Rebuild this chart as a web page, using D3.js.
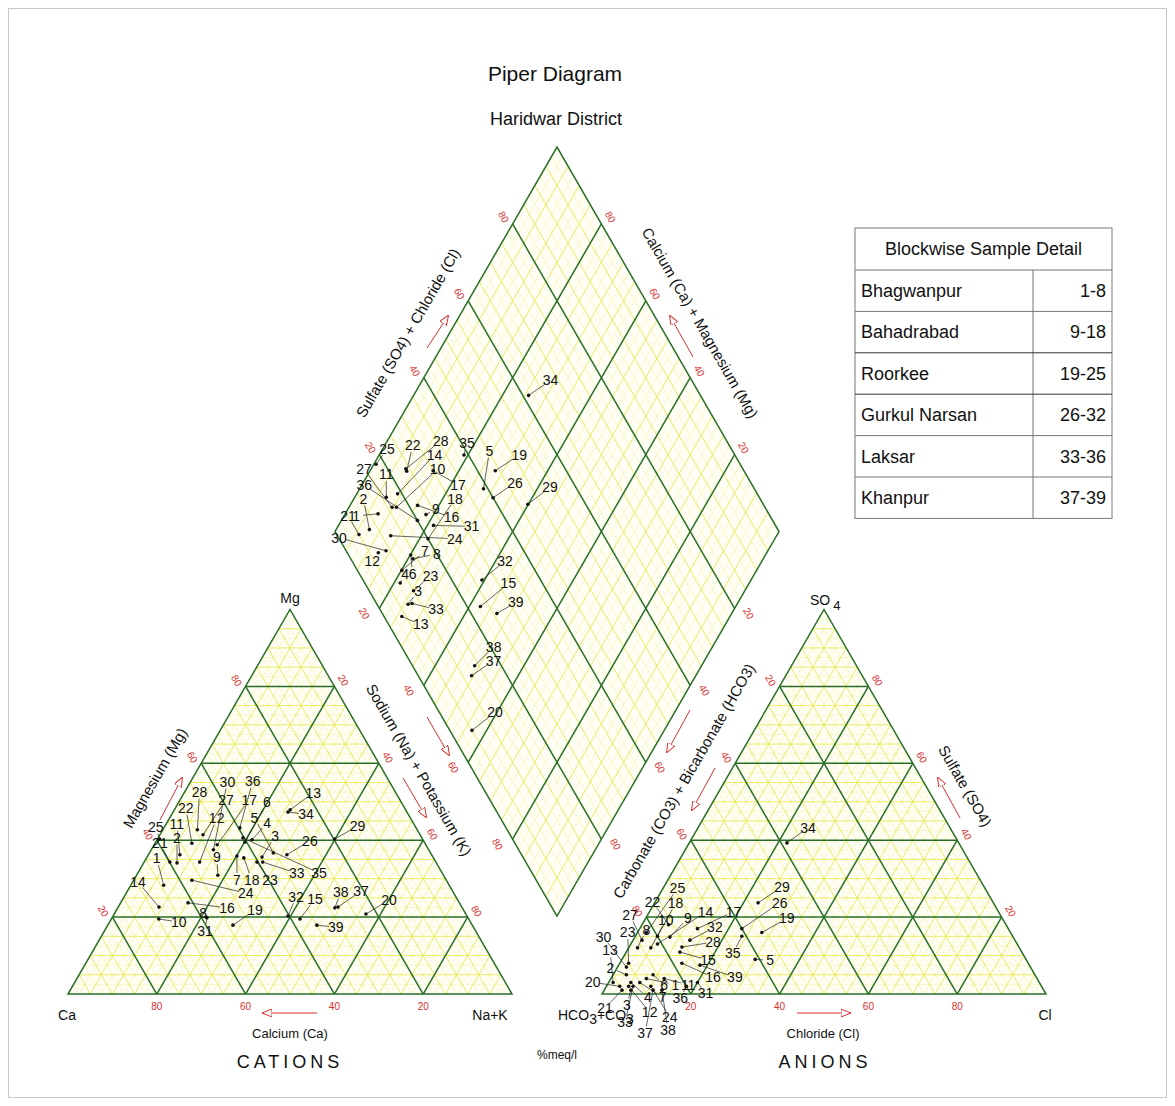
<!DOCTYPE html>
<html>
<head>
<meta charset="utf-8">
<script src="https://cdn.jsdelivr.net/npm/d3@7"></script>
<style>
  body { margin: 0; background: #fff; }
  svg { display: block; font-family: Arial, "Liberation Sans", sans-serif; }
</style>
</head>
<body>
<svg id="chart" width="1175" height="1106"></svg>
<script>
// ---- data (% meq/l) ----
const sampleIds = [1,2,3,4,5,6,7,8,9,10,11,12,13,14,15,16,17,18,19,20,21,22,23,24,25,26,27,28,29,30,31,32,33,34,35,36,37,38,39];
const caPct   = [64.3,58.4,38.5,38.5,35.4,40.4,44.0,58.9,50.8,69.8,56.7,53.2,26.0,68.2,38.0,61.1,47.0,42.7,53.9,22.5,59.9,52.5,40.3,57.3,59.2,32.6,48.9,49.5,19.8,48.5,58.8,40.3,39.0,26.8,40.3,39.7,27.9,28.7,35.0];
const mgPct   = [28.3,34.1,35.6,40.1,36.7,39.5,35.9,20.0,30.9,19.5,36.2,34.3,47.9,22.6,19.5,23.7,38.8,35.4,17.9,20.8,34.3,39.2,34.3,29.6,40.3,36.2,41.4,42.7,40.3,37.5,19.8,20.3,34.3,47.3,40.6,43.2,22.6,22.4,17.9];
const nakPct  = [7.4,7.5,25.9,21.4,27.9,20.1,20.1,21.1,18.3,10.7,7.1,12.5,26.1,9.2,42.5,15.2,14.2,21.9,28.2,56.7,5.8,8.3,25.4,13.1,0.5,31.2,9.7,7.8,39.9,14.0,21.4,39.4,26.7,25.9,19.1,17.1,49.5,48.9,47.1];
const hco3Pct = [88,92,93,92,61,86,90,86,77.3,83,84,93,96,81,77,78,70,80,56,95,95,76,90,88,82,60,84,75.9,53,91,77,73.2,92,38.7,61,80,88,86,74.2];
const so4Pct  = [4,5,1,3,9,5,3,12,14.8,12,4,2,3,13,10.9,8,17,15,16,2,1,18,8,2,16,17,14,12.2,23.7,7,3,14,2,39.3,15,2,1,1,7.5];
const clPct   = [8,3,6,5,30,9,7,2,7.9,5,12,5,1,6,12.1,14,13,5,28,3,4,6,2,10,2,23,2,11.9,23.3,2,20,12.8,6,22.0,24,18,11,13,18.3];

const tickValues = [20, 40, 60, 80];
const blockNames  = ['Bhagwanpur', 'Bahadrabad', 'Roorkee', 'Gurkul Narsan', 'Laksar', 'Khanpur'];
const blockRanges = ['1-8', '9-18', '19-25', '26-32', '33-36', '37-39'];

// label placement (pixel offsets from each point, layout only)
const catLabelOffsets = [[-7,-27],[0,-25],[13,-21],[15,-17],[-19,-35],[22,-40],[0,24],[-3,-4],[-1,-18],[20,3],
  [-3,-31],[17,-44],[23,-17],[-21,-25],[15,-20],[39,5],[32,-45],[8,22],[22,-15],[23,-14],
  [-10,-19],[-6,-35],[13,18],[54,13],[-4,-12],[23,-14],[23,-35],[2,-38],[23,-13],[14,-68],
  [-2,13],[8,-19],[34,11],[18,2],[76,35],[13,-47],[23,-16],[6,-16],[19,2]];
const anLabelOffsets = [[29,6],[-16,-7],[-4,15],[17,15],[15,1],[11,10],[23,15],[9,-18],[18,-19],[15,-28],
  [24,6],[21,26],[-3,-32],[48,-32],[28,8],[31,14],[36,-17],[18,-33],[25,-14],[-27,-4],
  [-17,18],[-16,-23],[-1,-31],[19,31],[31,-44],[38,-26],[-12,-25],[31,-5],[24,-16],[-23,-30],
  [8,11],[25,-13],[-8,36],[21,-15],[-9,17],[-6,12],[-8,43],[6,40],[35,12]];
const diaLabelOffsets = [[-22,2],[-6,-31],[10,-13],[5,-9],[6,-38],[2,19],[23,-19],[24,-5],[10,-6],[41,-38],
  [0,-23],[-6,8],[19,8],[37,-39],[28,-23],[34,12],[25,14],[27,-40],[24,-16],[23,-18],
  [-11,-19],[6,-26],[17,-15],[64,3],[11,-15],[22,-15],[-28,-38],[35,-28],[22,-17],[-47,-13],
  [38,1],[23,-19],[24,6],[22,-15],[3,-12],[-53,-35],[22,-15],[19,-19],[19,-11]];

const samples = sampleIds.map((id, i) => ({
  id, ca: caPct[i], mg: mgPct[i], nak: nakPct[i],
  hco3: hco3Pct[i], so4: so4Pct[i], cl: clPct[i]
}));

// ---- geometry ----
const svg = d3.select('#chart');
const S = 444;
const H = S * Math.sqrt(3) / 2;
const len = d3.scaleLinear().domain([0, 100]).range([0, S]);
const ht = d3.scaleLinear().domain([0, 100]).range([0, H]);

const catO = { x: 68, y: 994 };
const anO = { x: 602, y: 994 };
const gap = anO.x - (catO.x + S);
const B = { x: catO.x + S + gap / 2, y: catO.y - ht(gap / S * 100) };

const tri = (o, top, right) => [o.x + len(right + top / 2), o.y - ht(top)];
const catXY = d => tri(catO, d.mg, d.nak);
const anXY = d => tri(anO, d.so4, d.cl);
const diaPt = (n, c) => [B.x + len(n - c) / 2, B.y - ht(200 - n - c)];
const diaXY = d => diaPt(d.nak, d.hco3);

const GREEN = '#2a6e26';
const RED = '#d83030';
const line = d3.line();

svg.append('rect').attr('x', 8.5).attr('y', 8.5).attr('width', 1158).attr('height', 1089)
  .attr('fill', 'none').attr('stroke', '#c8c8c8');

// ---- grids ----
const steps = d3.range(2.5, 100, 2.5);
function gridStyle(sel, t) {
  if (t % 20 === 0) sel.attr('stroke', GREEN).attr('stroke-width', 1.5);
  else if (t % 5 === 0) sel.attr('stroke', '#e6e640').attr('stroke-width', 0.8);
  else sel.attr('stroke', '#f1f1a0').attr('stroke-width', 0.5);
}
const rank = t => (t % 20 === 0 ? 2 : t % 5 === 0 ? 1 : 0);

function drawTriangle(o) {
  const g = svg.append('g');
  const outline = line([tri(o,0,0), tri(o,0,100), tri(o,100,0)]) + 'Z';
  g.append('path').attr('d', outline).attr('fill', '#fefef4');
  const segs = [];
  steps.forEach(t => {
    segs.push([t, [tri(o,t,0), tri(o,t,100-t)]]);
    segs.push([t, [tri(o,0,t), tri(o,100-t,t)]]);
    segs.push([t, [tri(o,0,100-t), tri(o,100-t,0)]]);
  });
  segs.sort((a, b) => rank(a[0]) - rank(b[0]));
  segs.forEach(([t, p]) => gridStyle(g.append('path').attr('d', line(p)), t));
  g.append('path').attr('d', outline)
    .attr('fill', 'none').attr('stroke', GREEN).attr('stroke-width', 1.5);
}

function drawDiamond() {
  const g = svg.append('g');
  const outline = line([diaPt(100,100), diaPt(0,100), diaPt(0,0), diaPt(100,0)]) + 'Z';
  g.append('path').attr('d', outline).attr('fill', '#fefef4');
  const segs = [];
  steps.forEach(t => {
    segs.push([t, [diaPt(t,0), diaPt(t,100)]]);
    segs.push([t, [diaPt(0,t), diaPt(100,t)]]);
  });
  segs.sort((a, b) => rank(a[0]) - rank(b[0]));
  segs.forEach(([t, p]) => gridStyle(g.append('path').attr('d', line(p)), t));
  g.append('path').attr('d', outline).attr('fill', 'none').attr('stroke', GREEN).attr('stroke-width', 1.5);
}

drawTriangle(catO);
drawTriangle(anO);
drawDiamond();

// ---- red tick labels ----
function redTick(p, dx, dy, text, rot) {
  const x = p[0] + dx, y = p[1] + dy;
  svg.append('text').attr('x', x).attr('y', y).attr('dy', '0.35em')
    .attr('text-anchor', 'middle').attr('font-size', 10).attr('fill', RED)
    .attr('transform', rot ? `rotate(${rot},${x},${y})` : null)
    .text(text);
}
tickValues.forEach(v => {
  // cations
  redTick(tri(catO, 0, 100 - v), 0, 12, v, 0);
  redTick(tri(catO, v, 0), -9, -6, v, 60);
  redTick(tri(catO, 100 - v, v), 9, -6, v, 60);
  // anions
  redTick(tri(anO, 0, v), 0, 12, v, 0);
  redTick(tri(anO, 100 - v, 0), -9, -6, v, 60);
  redTick(tri(anO, v, 100 - v), 9, -6, v, 60);
  // diamond
  redTick(diaPt(0, 100 - v), -9, -7, v, 60);   // SO4 + Cl
  redTick(diaPt(100 - v, 0), 9, -7, v, 60);    // Ca + Mg
  redTick(diaPt(v, 100), -15, 5, v, 60);       // Na + K
  redTick(diaPt(100, v), 14, 5, v, 60);        // CO3 + HCO3
});

// ---- red arrows ----
svg.append('defs').append('marker').attr('id', 'head')
  .attr('viewBox', '0 0 10 8').attr('refX', 9).attr('refY', 4)
  .attr('markerWidth', 10).attr('markerHeight', 8).attr('markerUnits', 'userSpaceOnUse')
  .attr('orient', 'auto')
  .append('path').attr('d', 'M0,0 L10,4 L0,8 Z').attr('fill', '#fff').attr('stroke', RED).attr('stroke-width', 1);
const arrows = [
  [[317,1013],[263,1013]], [[160,820],[182,778]], [[403,778],[426,817]], [[427,717],[449,755]],
  [[690,710],[667,752]], [[715,768],[692,810]], [[960,818],[938,778]], [[797,1013],[850,1013]],
  [[427,348],[448,316]], [[693,357],[670,316]]
];
arrows.forEach(a => svg.append('path').attr('d', line(a)).attr('stroke', RED)
  .attr('stroke-width', 1).attr('fill', 'none').attr('marker-end', 'url(#head)'));

// ---- axis titles ----
function axisText(x, y, rot, text, size) {
  svg.append('text').attr('x', x).attr('y', y).attr('dy', '0.35em')
    .attr('text-anchor', 'middle').attr('font-size', size || 15).attr('fill', '#111')
    .attr('transform', rot ? `rotate(${rot},${x},${y})` : null).text(text);
}
axisText(155, 778, -60, 'Magnesium (Mg)');
axisText(419, 770, 60, 'Sodium (Na) + Potassium (K)');
axisText(290, 1033, 0, 'Calcium (Ca)', 13);
axisText(408, 333, -60, 'Sulfate (SO4) + Chloride (Cl)');
axisText(700, 323, 60, 'Calcium (Ca) + Magnesium (Mg)');
axisText(684, 781, -60, 'Carbonate (CO3) + Bicarbonate (HCO3)');
axisText(965, 786, 60, 'Sulfate (SO4)');
axisText(823, 1033, 0, 'Chloride (Cl)', 13);

axisText(67, 1015, 0, 'Ca', 14);
axisText(490, 1015, 0, 'Na+K', 14);
axisText(290, 598, 0, 'Mg', 14);
axisText(1045, 1015, 0, 'Cl', 14);
const so4 = svg.append('text').attr('x', 810).attr('y', 605).attr('font-size', 14).attr('fill', '#111');
so4.append('tspan').text('SO');
so4.append('tspan').attr('dx', 3).attr('dy', 5).attr('font-size', 13).text('4');
const hco = svg.append('text').attr('x', 558).attr('y', 1020).attr('font-size', 14).attr('fill', '#111');
hco.append('tspan').text('HCO');
hco.append('tspan').attr('dy', 4).text('3');
hco.append('tspan').attr('dy', -4).text('+CO');
hco.append('tspan').attr('dy', 4).text('3');

svg.append('text').attr('x', 290).attr('y', 1068).attr('text-anchor', 'middle')
  .attr('font-size', 18).attr('letter-spacing', 4).attr('fill', '#111').text('CATIONS');
svg.append('text').attr('x', 825).attr('y', 1068).attr('text-anchor', 'middle')
  .attr('font-size', 18).attr('letter-spacing', 4).attr('fill', '#111').text('ANIONS');
axisText(557, 1055, 0, '%meq/l', 12);

axisText(555, 74, 0, 'Piper Diagram', 21);
axisText(556, 119, 0, 'Haridwar District', 18);

// ---- sample points + labels ----
function plotPoints(posFn, offsets) {
  const g = svg.append('g');
  samples.forEach((d, i) => {
    const [x, y] = posFn(d);
    const [dx, dy] = offsets[i];
    const dist = Math.hypot(dx, dy);
    if (dist > 10) {
      const k = (dist - 7) / dist;
      g.append('line').attr('x1', x).attr('y1', y).attr('x2', x + dx * k).attr('y2', y + dy * k)
        .attr('stroke', '#222').attr('stroke-width', 0.7);
    }
    g.append('circle').attr('cx', x).attr('cy', y).attr('r', 1.8).attr('fill', '#111');
    g.append('text').attr('x', x + dx).attr('y', y + dy).attr('dy', '0.35em')
      .attr('text-anchor', 'middle').attr('font-size', 14).attr('fill', '#111').text(d.id);
  });
}
plotPoints(catXY, catLabelOffsets);
plotPoints(anXY, anLabelOffsets);
plotPoints(diaXY, diaLabelOffsets);

// ---- legend table ----
const tb = { x: 855, y: 228, w: 257, head: 42, row: 41.4, split: 1033 };
const tg = svg.append('g');
tg.append('rect').attr('x', tb.x).attr('y', tb.y).attr('width', tb.w)
  .attr('height', tb.head + tb.row * blockNames.length)
  .attr('fill', '#fff').attr('stroke', '#777');
tg.append('text').attr('x', tb.x + tb.w / 2).attr('y', tb.y + tb.head / 2).attr('dy', '0.35em')
  .attr('text-anchor', 'middle').attr('font-size', 18).attr('fill', '#111').text('Blockwise Sample Detail');
tg.append('line').attr('x1', tb.split).attr('x2', tb.split)
  .attr('y1', tb.y + tb.head).attr('y2', tb.y + tb.head + tb.row * blockNames.length)
  .attr('stroke', '#777');
blockNames.forEach((name, i) => {
  const y0 = tb.y + tb.head + tb.row * i;
  tg.append('line').attr('x1', tb.x).attr('x2', tb.x + tb.w).attr('y1', y0).attr('y2', y0)
    .attr('stroke', i === 2 || i === 3 ? '#333' : '#777');
  tg.append('text').attr('x', tb.x + 6).attr('y', y0 + tb.row / 2).attr('dy', '0.35em')
    .attr('font-size', 18).attr('fill', '#111').text(name);
  tg.append('text').attr('x', tb.x + tb.w - 6).attr('y', y0 + tb.row / 2).attr('dy', '0.35em')
    .attr('text-anchor', 'end').attr('font-size', 18).attr('fill', '#111').text(blockRanges[i]);
});
</script>
</body>
</html>
